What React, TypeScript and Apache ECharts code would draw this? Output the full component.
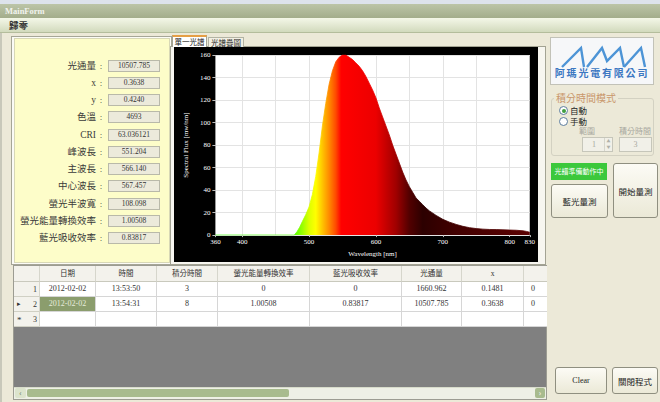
import React, { useEffect, useRef } from "react";
import * as echarts from "echarts";

// ---------- chart data ----------
const wavelengths = [
  360, 400, 450, 470, 478, 482, 486, 490, 495, 500, 505, 510, 515, 520, 525, 530, 535, 540, 545, 550,
  555, 560, 565, 570, 575, 580, 585, 590, 595, 600, 605, 610, 615, 620, 625, 630, 635, 640, 645, 650,
  655, 660, 665, 670, 675, 680, 690, 700, 710, 720, 730, 740, 750, 760, 770, 780, 790, 800, 810, 820,
  825, 830,
];
const flux = [
  0, 0, 0, 0, 0, 3, 7, 12, 18, 25, 36, 52, 73, 97, 117, 134, 146, 154, 158, 160,
  160, 158, 156, 153, 150, 146, 141, 135, 129, 122, 113, 105, 97, 89, 80, 72, 64, 56, 49, 43,
  38, 33, 30, 27, 24, 21.5, 17.5, 14, 11.5, 9.5, 7.8, 6.6, 5.8, 5.3, 5.0, 4.9, 4.7, 4.5, 4.3, 3.8,
  3.3, 2.5,
];
const xMin = 360;
const xMax = 830;
const xTickLabels = [360, 400, 500, 600, 700, 800, 830];
const xGridLines = [400, 450, 500, 550, 600, 650, 700, 750, 800];
const yMin = 0;
const yMax = 160;
const yStep = 20;
const xName = "Wavelength [nm]";
const yName = "Spectral Flux [mw/nm]";

// spectrum colour ramp (wavelength -> colour)
const rampWl = [360, 478, 490, 500, 510, 520, 530, 540, 548, 600, 630, 650, 670, 720, 830];
const rampColors = [
  "#33ff00", "#55ff00", "#99ff00", "#ddff00", "#ffff00", "#ffc400", "#ff8a00", "#ff4a00",
  "#ff0000", "#ec0000", "#a00000", "#520000", "#2c0000", "#420000", "#5a0000",
];

// ---------- form data ----------
const infoLabels = ["光通量", "x", "y", "色溫", "CRI", "峰波長", "主波長", "中心波長", "螢光半波寬", "螢光能量轉換效率", "藍光吸收效率"];
const infoValues = ["10507.785", "0.3638", "0.4240", "4693", "63.036121", "551.204", "566.140", "567.457", "108.098", "1.00508", "0.83817"];
const tableHeaders = ["日期", "時間", "積分時間", "螢光能量轉換效率", "藍光吸收效率", "光通量", "x", ""];
const tableRow1 = ["2012-02-02", "13:53:50", "3", "0", "0", "1660.962", "0.1481", "0"];
const tableRow2 = ["2012-02-02", "13:54:31", "8", "1.00508", "0.83817", "10507.785", "0.3638", "0"];
const tableRows = [tableRow1, tableRow2];
const rowNumbers = ["1", "2", "3"];

// ---------- layout ----------
const colX = [14, 40, 96, 157, 218, 310, 402, 462, 524, 547];
const SERIF = "'Liberation Serif', 'Noto Sans CJK TC', serif";
const CJK = "'Noto Sans CJK TC', 'Liberation Serif', sans-serif";

const abs = (l: number, t: number, w: number, h: number, extra: any = {}): React.CSSProperties => ({
  position: "absolute",
  left: l,
  top: t,
  width: w,
  height: h,
  boxSizing: "border-box",
  ...extra,
});

const btnStyle = {
  border: "1px solid #8f8f80",
  borderRadius: 3,
  background: "linear-gradient(#fcfbf5, #ebe9d7)",
  display: "flex",
  alignItems: "center",
  justifyContent: "center",
  color: "#222",
  fontFamily: CJK,
};

function buildOption() {
  const stops = rampWl.map((w, i) => ({ offset: (w - xMin) / (xMax - xMin), color: rampColors[i] }));
  const grad = new echarts.graphic.LinearGradient(0, 0, 1, 0, stops);
  const grad2 = new echarts.graphic.LinearGradient(0, 0, 1, 0, stops);
  const labelStyle = { color: "#ffffff", fontSize: 7, fontFamily: SERIF };
  return {
    animation: false,
    backgroundColor: "#000000",
    grid: { left: 32, right: 4, top: 8, bottom: 24, show: true, backgroundColor: "#ffffff", borderWidth: 0 },
    xAxis: {
      type: "value",
      min: xMin,
      max: xMax,
      name: xName,
      nameLocation: "middle",
      nameGap: 10,
      nameTextStyle: labelStyle,
      axisLine: { show: false },
      axisTick: { show: true, length: 2, lineStyle: { color: "#bbbbbb" }, customValues: xTickLabels },
      axisLabel: { ...labelStyle, margin: 3, customValues: xTickLabels, showMinLabel: true, showMaxLabel: true },
      splitLine: { show: false },
    },
    yAxis: {
      type: "value",
      min: yMin,
      max: yMax,
      interval: yStep,
      name: yName,
      nameLocation: "middle",
      nameGap: 20,
      nameTextStyle: labelStyle,
      axisLine: { show: false },
      axisTick: { show: true, length: 3, lineStyle: { color: "#bbbbbb" } },
      axisLabel: { ...labelStyle, margin: 5 },
      splitLine: { show: true, lineStyle: { color: "#e3e3e3", width: 1 } },
    },
    series: [
      {
        type: "line",
        data: [],
        z: 1,
        silent: true,
        markLine: {
          silent: true,
          symbol: ["none", "none"],
          label: { show: false },
          lineStyle: { color: "#e3e3e3", width: 1, type: "solid" },
          data: xGridLines.map((v) => ({ xAxis: v })),
          z: 1,
        },
      },
      {
        type: "line",
        data: wavelengths.map((w, i) => [w, flux[i]]),
        showSymbol: false,
        symbol: "none",
        z: 3,
        silent: true,
        lineStyle: { width: 0.8, color: grad2 },
        areaStyle: { color: grad, opacity: 1 },
      },
    ],
  };
}

export default function App() {
  const ref = useRef<HTMLDivElement>(null);
  useEffect(() => {
    if (!ref.current) return;
    const chart = echarts.init(ref.current, null, { renderer: "svg" });
    chart.setOption(buildOption() as any);
    return () => chart.dispose();
  }, []);

  const rowY = [282, 297, 312];

  return (
    <div style={abs(0, 0, 660, 402, { position: "fixed", background: "#ECE9D8", overflow: "hidden", fontFamily: CJK })}>
      {/* window chrome */}
      <div style={abs(0, 0, 660, 4, { background: "#dde3ec" })} />
      <div style={abs(0, 4, 660, 14, { background: "linear-gradient(#bcc5a8, #a3ad8b)" })}>
        <div style={abs(5, 0, 60, 14, { fontSize: 8.5, lineHeight: "14px", color: "#f2f3ee", fontFamily: SERIF, fontWeight: "bold" })}>MainForm</div>
      </div>
      <div style={abs(0, 18, 660, 15, { background: "linear-gradient(#f4f7e8, #d2dabd)", borderBottom: "1px solid #b4bd9c" })}>
        <div style={abs(9, 0, 24, 14, { fontSize: 9.5, lineHeight: "14px", fontWeight: "bold", color: "#333" })}>歸零</div>
      </div>
      <div style={abs(0, 33, 2, 369, { background: "#c8c8ba" })} />

      {/* left info panel */}
      <div style={abs(11, 36, 161, 229, { border: "1px solid #a6a697", background: "#fbfbf6" })} />
      <div style={abs(14, 38, 156, 225, { background: "#fdfdc9", border: "1px solid #d8d8b6" })} />
      {infoLabels.map((lab, i) => {
        const cy = 65.5 + 17.25 * i;
        return (
          <React.Fragment key={lab}>
            <div style={abs(10, cy - 7, 86, 14, { fontSize: 9.5, lineHeight: "14px", textAlign: "right", color: "#3a3a3a", fontFamily: SERIF, whiteSpace: "nowrap" })}>{lab}</div>
            <div style={abs(97, cy - 7, 8, 14, { fontSize: 9, lineHeight: "14px", textAlign: "center", color: "#3a3a3a", fontFamily: SERIF })}>:</div>
            <div style={abs(108, cy - 6, 52, 12, { background: "#eceadb", border: "1px solid #b9b9a9", fontSize: 7.5, lineHeight: "10px", textAlign: "center", color: "#333", fontFamily: SERIF })}>{infoValues[i]}</div>
          </React.Fragment>
        );
      })}

      {/* tab control */}
      <div style={abs(170, 46, 376, 219, { background: "#f7f6f0", border: "1px solid #a3a393" })} />
      <div style={abs(172, 35, 35, 12, { background: "#ffffff", borderTop: "2px solid #e59f45", borderLeft: "1px solid #a3a393", borderRight: "1px solid #a3a393", fontSize: 7.5, lineHeight: "9px", textAlign: "center", color: "#222" })}>單一光譜</div>
      <div style={abs(208, 37, 36, 10, { background: "#f1efe3", border: "1px solid #b3b3a3", borderBottom: "none", fontSize: 7.5, lineHeight: "9px", textAlign: "center", color: "#222" })}>光譜疊圖</div>
      <div ref={ref} style={abs(174, 47, 364, 215)} />

      {/* data table */}
      <div style={abs(13, 265, 534, 135, { border: "1px solid #9c9c92", background: "#808080" })} />
      <div style={abs(14, 266, colX[1] - colX[0], 16, { background: "#f3f2ec", borderRight: "1px solid #d6d6cc", borderBottom: "1px solid #c9c9bd" })} />
      {tableHeaders.map((h, c) => (
        <div key={"h" + c} style={abs(colX[c + 1], 266, colX[c + 2] - colX[c + 1], 16, { background: "#f3f2ec", borderRight: c < 7 ? "1px solid #d6d6cc" : "none", borderBottom: "1px solid #c9c9bd", fontSize: 7.5, lineHeight: "15px", textAlign: "center", color: "#333", fontFamily: SERIF, whiteSpace: "nowrap", overflow: "hidden" })}>{h}</div>
      ))}
      {rowNumbers.map((n, r) => (
        <div key={"rn" + r} style={abs(14, rowY[r], colX[1] - colX[0], 15, { background: "#f3f2ec", borderRight: "1px solid #d6d6cc", borderBottom: "1px solid #d0d0c4", fontFamily: SERIF, color: "#333" })}>
          {r === 1 && <div style={abs(3, 0, 8, 14, { fontSize: 7, lineHeight: "14px" })}>▸</div>}
          {r === 2 && <div style={abs(3, 0, 8, 14, { fontSize: 9, lineHeight: "16px" })}>*</div>}
          <div style={abs(13, 0, 10, 14, { fontSize: 8, lineHeight: "15px", textAlign: "right" })}>{n}</div>
        </div>
      ))}
      {[0, 1, 2].map((r) =>
        tableHeaders.map((_, c) => {
          const val = r < 2 ? tableRows[r][c] : "";
          const selected = r === 1 && c === 0;
          const w = colX[c + 2] - colX[c + 1];
          return (
            <div key={"c" + r + "_" + c} style={abs(colX[c + 1], rowY[r], w, 15, { background: selected ? "#8b9d6d" : "#ffffff", borderRight: c < 7 ? "1px solid #d6d6d6" : "none", borderBottom: "1px solid #d6d6d6", fontSize: 8, lineHeight: "14px", textAlign: c < 7 ? "center" : "left", paddingLeft: c < 7 ? 0 : 7, color: selected ? "#e6ecdc" : "#333", fontFamily: SERIF, whiteSpace: "nowrap" })}>
              {val}
            </div>
          );
        })
      )}
      {/* scrollbar */}
      <div style={abs(14, 387, 532, 12, { background: "#eef0e6", borderTop: "1px solid #d8dccb" })} />
      <div style={abs(15, 388, 11, 10, { background: "#dce4cd", borderRadius: 2, fontSize: 8, lineHeight: "10px", textAlign: "center", color: "#6a7a58" })}>‹</div>
      <div style={abs(27, 389, 262, 8, { background: "#a8bb8e", borderRadius: 2 })} />
      <div style={abs(535, 388, 10, 10, { background: "#a8bb8e", borderRadius: 2, fontSize: 8, lineHeight: "10px", textAlign: "center", color: "#ffffff" })}>›</div>

      {/* right panel: logo */}
      <div style={abs(550, 37, 104, 48, { background: "#f6f7f9", border: "1px solid #c2c2b8" })} />
      <svg style={abs(550, 37, 104, 48)} width={104} height={48}>
        <polyline points="12,30 31,11 34,30" fill="none" stroke="#4d94d6" strokeWidth={2.4} strokeLinejoin="miter" />
        <polyline points="37,30 52,11 57,24 70,11 74,30" fill="none" stroke="#4d94d6" strokeWidth={2.4} />
        <polyline points="74,30 91,11 95,30" fill="none" stroke="#4d94d6" strokeWidth={2.4} />
      </svg>
      <div style={abs(550, 66, 104, 14, { fontSize: 10, lineHeight: "14px", letterSpacing: 1.8, textAlign: "center", color: "#3c78c2", fontWeight: "bold", whiteSpace: "nowrap" })}>阿瑪光電有限公司</div>

      {/* group box */}
      <div style={abs(551, 98, 103, 58, { border: "1px solid #d3d1c2", borderRadius: 3 })} />
      <div style={abs(554, 91, 64, 14, { background: "#ECE9D8", fontSize: 10, lineHeight: "14px", color: "#c9976c", textAlign: "center", whiteSpace: "nowrap" })}>積分時間模式</div>
      <div style={abs(559, 106, 9, 9, { borderRadius: "50%", border: "1px solid #5d7d9e", background: "#ffffff" })} />
      <div style={abs(561.5, 108.5, 4, 4, { borderRadius: "50%", background: "#3f9f3f" })} />
      <div style={abs(570, 104, 22, 12, { fontSize: 8.5, lineHeight: "12px", color: "#222" })}>自動</div>
      <div style={abs(559, 117, 9, 9, { borderRadius: "50%", border: "1px solid #5d7d9e", background: "#ffffff" })} />
      <div style={abs(570, 115, 22, 12, { fontSize: 8.5, lineHeight: "12px", color: "#222" })}>手動</div>
      <div style={abs(578, 125, 18, 12, { fontSize: 8, lineHeight: "12px", color: "#a8a8a0", textAlign: "center" })}>範圍</div>
      <div style={abs(617, 125, 36, 12, { fontSize: 8, lineHeight: "12px", color: "#a8a8a0", textAlign: "center", whiteSpace: "nowrap" })}>積分時間</div>
      <div style={abs(582, 137, 31, 15, { border: "1px solid #c6c6ba", background: "#f1f0e8" })}>
        <div style={abs(0, 0, 22, 13, { fontSize: 8, lineHeight: "13px", textAlign: "center", color: "#a8a8a0", fontFamily: SERIF })}>1</div>
        <div style={abs(21, 0, 8, 13, { borderLeft: "1px solid #d6d6cc", fontSize: 4, lineHeight: "6px", textAlign: "center", color: "#b0b0a8" })}>▲<br />▼</div>
      </div>
      <div style={abs(619, 137, 33, 15, { border: "1px solid #c6c6ba", background: "#f1f0e8", fontSize: 8, lineHeight: "13px", textAlign: "center", color: "#a8a8a0", fontFamily: SERIF })}>3</div>

      {/* status + buttons */}
      <div style={abs(551, 163, 56, 17, { background: "#3cc83c", color: "#ffffff", fontSize: 7, lineHeight: "17px", textAlign: "center", whiteSpace: "nowrap" })}>光譜準備動作中</div>
      <div style={abs(551, 184, 57, 34, { ...btnStyle, fontSize: 8.5 })}>藍光量測</div>
      <div style={abs(613, 163, 45, 55, { ...btnStyle, fontSize: 8.5 })}>開始量測</div>
      <div style={abs(555, 367, 52, 27, { ...btnStyle, fontSize: 8, fontFamily: SERIF })}>Clear</div>
      <div style={abs(612, 367, 46, 27, { ...btnStyle, fontSize: 8.5 })}>關閉程式</div>
    </div>
  );
}
